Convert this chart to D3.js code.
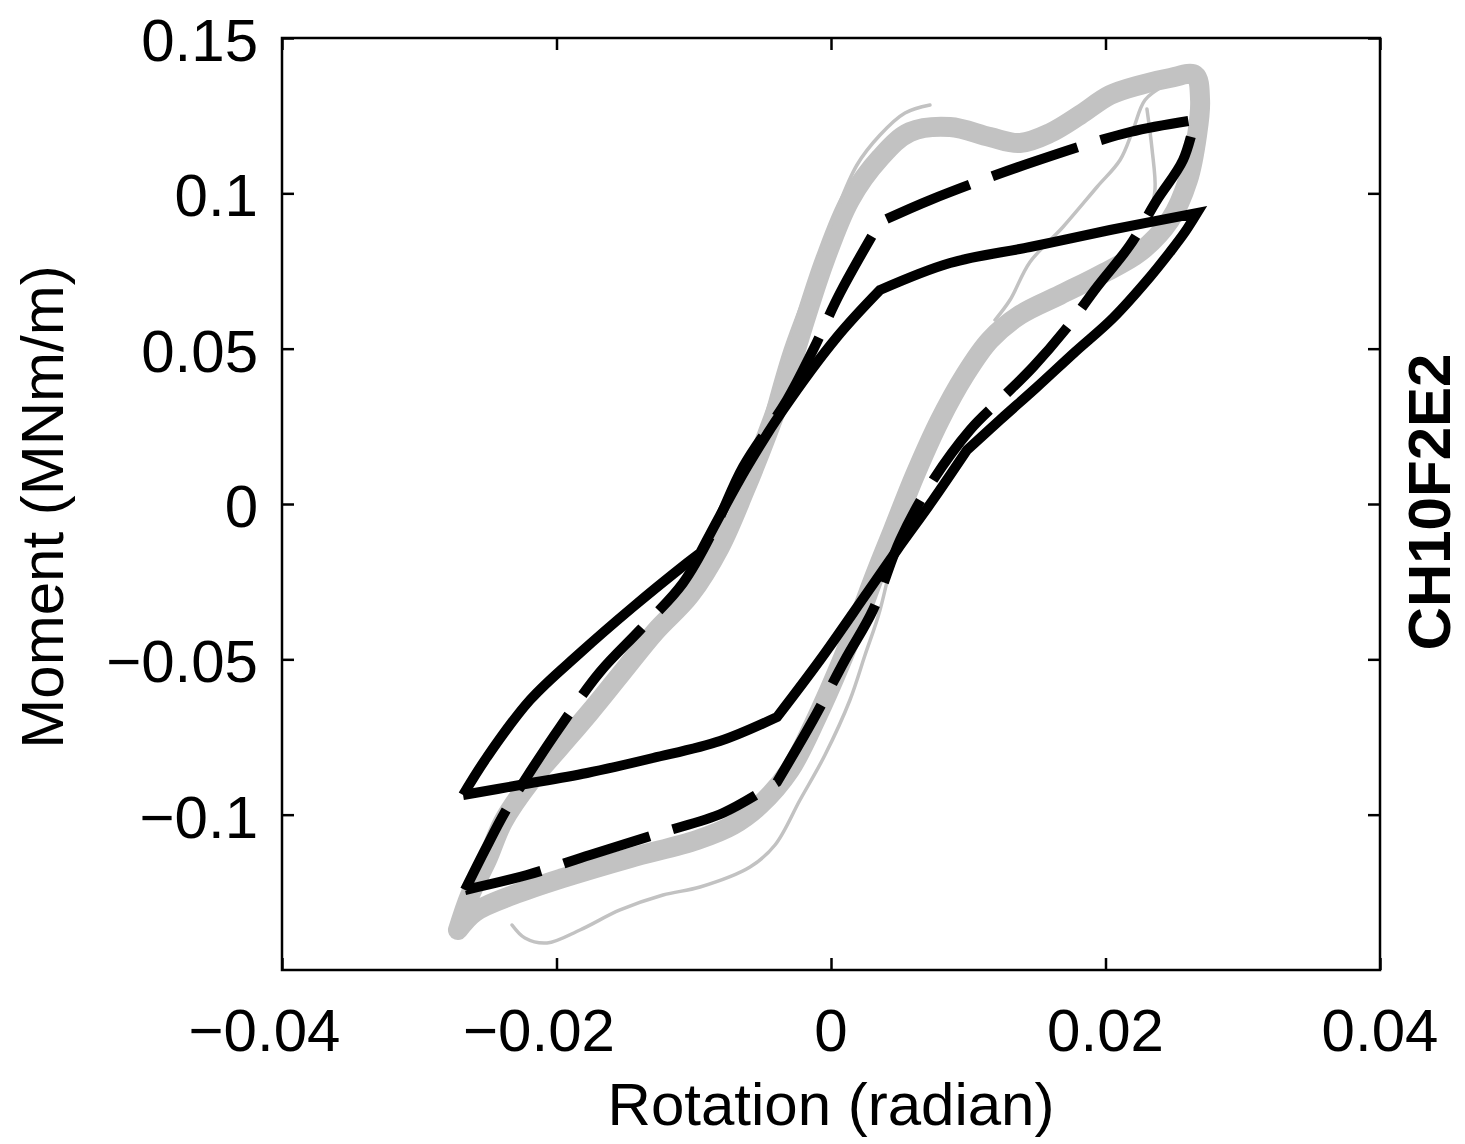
<!DOCTYPE html>
<html>
<head>
<meta charset="utf-8">
<script src="https://cdn.jsdelivr.net/npm/d3@7"></script>
<style>
  html, body { margin: 0; padding: 0; background: #fff; }
  svg { display: block; }
  text { font-family: "Liberation Sans", Arial, Helvetica, sans-serif; fill: #000; }
</style>
</head>
<body>
<script>
// ---------- DATA (rotation in radian, moment in MNm/m) ----------
const xTicks = [-0.04, -0.02, 0, 0.02, 0.04];
const xTickLabels = ["\u22120.04", "\u22120.02", "0", "0.02", "0.04"];
const yTicks = [-0.1, -0.05, 0, 0.05, 0.1, 0.15];
const yTickLabels = ["\u22120.1", "\u22120.05", "0", "0.05", "0.1", "0.15"];

// model 1 (solid black) hysteresis loop
const solidRot = [-0.02681,-0.02506,-0.02193,-0.01829,-0.01443,-0.01049,-0.00954,-0.00612,-0.00350,0.00044,0.00357,0.00867,0.01450,0.02033,0.02667,
                  0.02579,0.02470,0.02324,0.02055,0.01778,0.01501,0.01231,0.00991,0.00743,0.00481,0.00262,-0.00080,-0.00393,-0.00809,-0.01297,-0.01778,-0.02266,-0.02681];
const solidMom = [-0.09367,-0.08144,-0.06309,-0.04796,-0.03315,-0.01899,-0.01577,0.01191,0.03026,0.05375,0.06888,0.07757,0.08272,0.08820,0.09367,
                  0.08755,0.08111,0.07307,0.05987,0.04893,0.03766,0.02704,0.01738,0.00129,-0.01481,-0.02865,-0.05021,-0.06856,-0.07629,-0.08176,-0.08659,-0.09045,-0.09367];
// indices of sharp corners in the solid loop (start, kinks, peaks, end)
const solidBreaks = [0, 6, 10, 14, 22, 27, 32];

// model 2 (dashed black) hysteresis loop
const dashRot = [-0.02667,-0.02521,-0.02375,-0.02193,-0.01974,-0.01683,-0.01392,-0.01078,-0.00845,-0.00641,-0.00321,-0.00131,0.00066,0.00357,0.00721,0.01450,0.02179,0.02652,
                 0.02565,0.02375,0.02179,0.01938,0.01705,0.01472,0.01231,0.01013,0.00721,0.00503,0.00306,0.00102,-0.00131,-0.00393,-0.00787,-0.01246,-0.01756,-0.02215,-0.02667];
const dashMom = [-0.12425,-0.11137,-0.09914,-0.08627,-0.07178,-0.05408,-0.04056,-0.02543,-0.00740,0.01191,0.03348,0.04957,0.06792,0.09077,0.09785,0.10976,0.11974,0.12360,
                 0.11073,0.09785,0.08337,0.06985,0.05601,0.04410,0.03348,0.02382,0.00612,-0.01159,-0.03412,-0.05021,-0.06953,-0.08948,-0.09946,-0.10590,-0.11298,-0.11942,-0.12425];
const dashBreaks = [0, 13, 17, 31, 36];

// experimental cycles (grey band)
const expRot = [-0.02718,-0.02630,-0.02506,-0.02390,-0.02193,-0.01974,-0.01756,-0.01537,-0.01282,-0.01027,-0.00809,-0.00627,-0.00481,-0.00335,-0.00189,-0.00044,0.00138,0.00357,0.00576,0.00867,0.01158,0.01377,0.01596,0.01814,0.02033,0.02251,0.02470,0.02652,
                0.02689,0.02667,0.02601,0.02470,0.02251,0.01960,0.01668,0.01377,0.01158,0.00976,0.00794,0.00612,0.00452,0.00321,0.00197,0.00066,-0.00102,-0.00299,-0.00517,-0.00714,-0.00976,-0.01464,-0.01953,-0.02317,-0.02594,-0.02718];
const expMom = [-0.13712,-0.12586,-0.11459,-0.10236,-0.08948,-0.07822,-0.06695,-0.05504,-0.04120,-0.02929,-0.01384,0.00451,0.02060,0.03830,0.05923,0.07854,0.09785,0.11137,0.11974,0.12135,0.11813,0.11620,0.11942,0.12521,0.13165,0.13487,0.13712,0.13809,
                0.13004,0.11878,0.10429,0.09142,0.08111,0.07371,0.06727,0.06084,0.05279,0.04152,0.02704,0.00933,-0.00837,-0.02285,-0.03734,-0.05182,-0.06856,-0.08562,-0.09689,-0.10333,-0.10815,-0.11395,-0.12038,-0.12586,-0.13133,-0.13712];

const expOuterUpRot = [-0.00481,-0.00335,-0.00153,0.00029,0.00189,0.00357,0.00539,0.00721];
const expOuterUpMom = [0.02704,0.04957,0.07114,0.09302,0.10912,0.11878,0.12586,0.12843];

const expInnerUpRot = [0.01195,0.01304,0.01450,0.01690,0.01938,0.02106,0.02200,0.02288,0.02434];
const expInnerUpMom = [0.05923,0.06566,0.07790,0.08916,0.10204,0.11073,0.12038,0.13004,0.13487];

const expRightRot = [0.02302,0.02339,0.02361,0.02324];
const expRightMom = [0.12714,0.11427,0.10140,0.09335];

const expOuterLowRot = [0.00503,0.00357,0.00248,0.00138,-0.00044,-0.00226,-0.00408,-0.00590,-0.00954,-0.01224,-0.01537,-0.01829,-0.02069,-0.02230,-0.02324];
const expOuterLowMom = [-0.00515,-0.03412,-0.04860,-0.06309,-0.08079,-0.09528,-0.10976,-0.11684,-0.12328,-0.12586,-0.13068,-0.13712,-0.14131,-0.13970,-0.13551];

// ---------- LAYOUT ----------
const W = 1465, H = 1144;
const plot = { left: 282, right: 1380, top: 38, bottom: 970 };

const svg = d3.select("body").append("svg").attr("width", W).attr("height", H);
svg.append("rect").attr("width", W).attr("height", H).attr("fill", "#fff");

const x = d3.scaleLinear().domain([-0.04, 0.04]).range([plot.left, plot.right]);
const y = d3.scaleLinear().domain([-0.15, 0.15]).range([plot.bottom, plot.top]);

const zip = (a, b) => a.map((v, i) => [v, b[i]]);
const lineSmooth = d3.line().x(d => x(d[0])).y(d => y(d[1])).curve(d3.curveCatmullRom.alpha(0.5));

// one continuous path, smooth between sharp corners
function piecewisePath(pts, breaks) {
  let d = "";
  for (let k = 0; k < breaks.length - 1; k++) {
    const seg = lineSmooth(pts.slice(breaks[k], breaks[k + 1] + 1));
    d += k === 0 ? seg : seg.replace(/^M/, "L");
  }
  return d;
}

const gData = svg.append("g");
const grey = "#c2c2c2";

// grey experimental band
gData.append("path").attr("d", lineSmooth(zip(expRot, expMom)))
  .attr("fill", "none").attr("stroke", grey).attr("stroke-width", 20)
  .attr("stroke-linejoin", "round").attr("stroke-linecap", "round");
[[expOuterUpRot, expOuterUpMom], [expInnerUpRot, expInnerUpMom], [expRightRot, expRightMom], [expOuterLowRot, expOuterLowMom]]
  .forEach(([r, m]) => {
    gData.append("path").attr("d", lineSmooth(zip(r, m)))
      .attr("fill", "none").attr("stroke", grey).attr("stroke-width", 3.5)
      .attr("stroke-linejoin", "round").attr("stroke-linecap", "round");
  });

// solid model
gData.append("path").attr("d", piecewisePath(zip(solidRot, solidMom), solidBreaks))
  .attr("fill", "none").attr("stroke", "#000").attr("stroke-width", 10)
  .attr("stroke-linejoin", "miter").attr("stroke-miterlimit", 10);

// dashed model
gData.append("path").attr("d", piecewisePath(zip(dashRot, dashMom), dashBreaks))
  .attr("fill", "none").attr("stroke", "#000").attr("stroke-width", 10)
  .attr("stroke-dasharray", "90,24").attr("stroke-linejoin", "miter").attr("stroke-miterlimit", 10);

// ---------- AXES (box with inward ticks) ----------
const axisG = svg.append("g");
const tickLen = 12;
const styleAxis = g => {
  g.select(".domain").remove();
  g.selectAll(".tick line").attr("stroke", "#000").attr("stroke-width", 2.5);
  g.selectAll(".tick text").remove();
};
axisG.append("g").attr("transform", `translate(0,${plot.bottom})`)
  .call(d3.axisBottom(x).tickValues(xTicks).tickSize(-tickLen).tickFormat("")).call(styleAxis);
axisG.append("g").attr("transform", `translate(0,${plot.top})`)
  .call(d3.axisTop(x).tickValues(xTicks).tickSize(-tickLen).tickFormat("")).call(styleAxis);
axisG.append("g").attr("transform", `translate(${plot.left},0)`)
  .call(d3.axisLeft(y).tickValues(yTicks).tickSize(-tickLen).tickFormat("")).call(styleAxis);
axisG.append("g").attr("transform", `translate(${plot.right},0)`)
  .call(d3.axisRight(y).tickValues(yTicks).tickSize(-tickLen).tickFormat("")).call(styleAxis);

svg.append("rect")
  .attr("x", plot.left).attr("y", plot.top)
  .attr("width", plot.right - plot.left).attr("height", plot.bottom - plot.top)
  .attr("fill", "none").attr("stroke", "#000").attr("stroke-width", 2.5);

// tick labels
const fs = 60;
svg.append("g").selectAll("text").data(xTicks).join("text")
  .attr("x", d => x(d)).attr("y", plot.bottom + 81)
  .attr("dx", d => d < 0 ? -17.5 : 0)
  .attr("text-anchor", "middle").attr("font-size", fs)
  .text((d, i) => xTickLabels[i]);

svg.append("g").selectAll("text").data(yTicks).join("text")
  .attr("x", plot.left - 24).attr("y", d => y(d) + 23)
  .attr("text-anchor", "end").attr("font-size", fs)
  .text((d, i) => yTickLabels[i]);

// axis titles
svg.append("text").attr("x", (plot.left + plot.right) / 2).attr("y", 1125)
  .attr("text-anchor", "middle").attr("font-size", fs).text("Rotation (radian)");

svg.append("text").attr("transform", "translate(63,507) rotate(-90)")
  .attr("text-anchor", "middle").attr("font-size", fs).text("Moment (MNm/m)");

svg.append("text").attr("transform", "translate(1450,502) rotate(-90)")
  .attr("text-anchor", "middle").attr("font-size", 60).attr("font-weight", "bold").text("CH10F2E2");
</script>
</body>
</html>
